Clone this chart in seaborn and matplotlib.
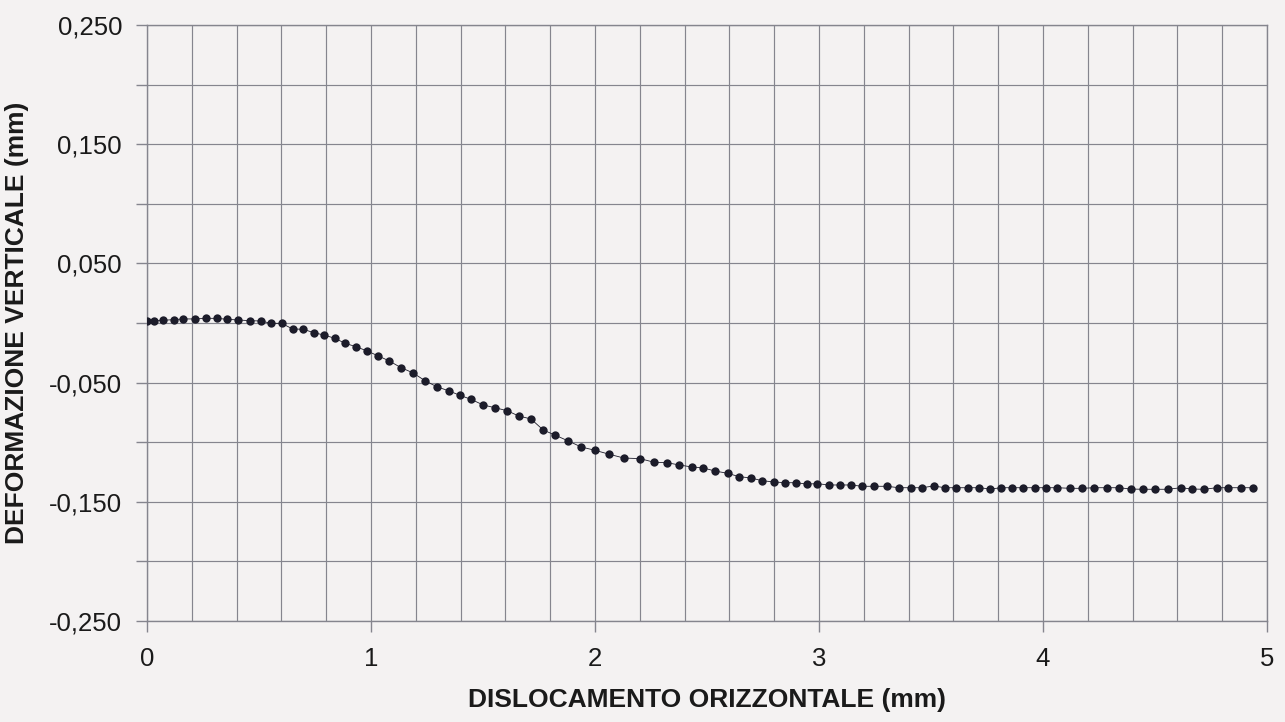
import matplotlib
matplotlib.use("Agg")
import matplotlib.pyplot as plt
import seaborn as sns
import pandas as pd
from matplotlib.ticker import MultipleLocator, FuncFormatter, FixedLocator

# --- data ---
x_mm = [0.000, 0.031, 0.073, 0.121, 0.162, 0.214, 0.262, 0.311, 0.358, 0.408,
        0.460, 0.508, 0.554, 0.601, 0.650, 0.698, 0.744, 0.790, 0.838, 0.884,
        0.933, 0.983, 1.033, 1.082, 1.134, 1.186, 1.241, 1.293, 1.348, 1.397,
        1.446, 1.501, 1.554, 1.608, 1.659, 1.714, 1.769, 1.821, 1.881, 1.938,
        2.000, 2.063, 2.129, 2.201, 2.265, 2.321, 2.376, 2.432, 2.481, 2.536,
        2.592, 2.643, 2.695, 2.746, 2.800, 2.850, 2.897, 2.945, 2.991, 3.045,
        3.094, 3.143, 3.193, 3.244, 3.304, 3.356, 3.411, 3.460, 3.512, 3.561,
        3.613, 3.664, 3.716, 3.765, 3.813, 3.863, 3.912, 3.964, 4.013, 4.064,
        4.121, 4.173, 4.229, 4.284, 4.339, 4.392, 4.445, 4.500, 4.557, 4.616,
        4.665, 4.720, 4.775, 4.827, 4.883, 4.939]
y_mm = [0.0017, 0.0019, 0.0023, 0.0028, 0.0034, 0.0034, 0.0039, 0.0039, 0.0031, 0.0025,
        0.0019, 0.0017, -0.0003, -0.0003, -0.0050, -0.0053, -0.0081, -0.0101, -0.0128, -0.0170,
        -0.0199, -0.0235, -0.0277, -0.0319, -0.0375, -0.0417, -0.0484, -0.0534, -0.0570, -0.0607,
        -0.0640, -0.0688, -0.0711, -0.0736, -0.0780, -0.0805, -0.0898, -0.0940, -0.0990, -0.1040,
        -0.1068, -0.1101, -0.1133, -0.1138, -0.1169, -0.1172, -0.1191, -0.1208, -0.1215, -0.1242,
        -0.1261, -0.1289, -0.1300, -0.1323, -0.1334, -0.1340, -0.1340, -0.1351, -0.1348, -0.1359,
        -0.1359, -0.1359, -0.1370, -0.1370, -0.1370, -0.1382, -0.1382, -0.1382, -0.1367, -0.1382,
        -0.1382, -0.1382, -0.1382, -0.1393, -0.1382, -0.1382, -0.1382, -0.1382, -0.1382, -0.1382,
        -0.1387, -0.1387, -0.1382, -0.1382, -0.1382, -0.1393, -0.1395, -0.1395, -0.1395, -0.1382,
        -0.1393, -0.1395, -0.1382, -0.1382, -0.1382, -0.1382]

x_major = [0, 1, 2, 3, 4, 5]
y_major = [0.25, 0.15, 0.05, -0.05, -0.15, -0.25]
y_minor = [0.20, 0.10, 0.0, -0.10, -0.20]

x_label = "DISLOCAMENTO ORIZZONTALE (mm)"
y_label = "DEFORMAZIONE VERTICALE (mm)"

# --- style ---
sns.set_theme(style="white")
plt.rcParams['font.family'] = ['Liberation Sans', 'DejaVu Sans']

bg = "#f4f2f2"
grid_c = "#85858e"
dot_c = "#1c1c2a"
txt_c = "#1a1a1a"

fig = plt.figure(figsize=(12.85, 7.22), dpi=100, facecolor=bg)
ax = fig.add_axes([0.1144, 0.1399, 0.986 - 0.1144, 0.9654 - 0.1399])
ax.set_facecolor(bg)

df = pd.DataFrame({"x": x_mm, "y": y_mm})
sns.lineplot(data=df, x="x", y="y", ax=ax, color=dot_c, linewidth=0.6,
             marker="o", markersize=6.0, markeredgewidth=0,
             markerfacecolor=dot_c, sort=False, zorder=3)

ax.set_xlim(0, 5)
ax.set_ylim(-0.25, 0.25)

ax.xaxis.set_major_locator(FixedLocator(x_major))
ax.xaxis.set_minor_locator(MultipleLocator(0.2))
ax.yaxis.set_major_locator(FixedLocator(y_major))
ax.yaxis.set_minor_locator(FixedLocator(y_minor))

ax.xaxis.set_major_formatter(FuncFormatter(lambda v, p: f"{v:.0f}"))
ax.yaxis.set_major_formatter(FuncFormatter(lambda v, p: f"{v:.3f}".replace(".", ",")))

ax.grid(True, which="both", color=grid_c, linewidth=0.85)
ax.set_axisbelow(True)

for s in ax.spines.values():
    s.set_color(grid_c)
    s.set_linewidth(1.0)

ax.tick_params(axis="x", which="major", direction="out", length=8, width=1,
               color=grid_c, labelsize=18.5, pad=11, labelcolor=txt_c, bottom=True)
ax.tick_params(axis="x", which="minor", length=0, bottom=False)
ax.tick_params(axis="y", which="both", direction="out", length=8, width=1,
               color=grid_c, left=True)
ax.tick_params(axis="y", which="major", labelsize=18.5, pad=10, labelcolor=txt_c)

ax.set_xlabel(x_label, fontsize=19, fontweight="bold", color=txt_c, labelpad=12)
ax.set_ylabel(y_label, fontsize=19, fontweight="bold", color=txt_c, labelpad=14)

fig.savefig("out.png", dpi=100, facecolor=bg)
